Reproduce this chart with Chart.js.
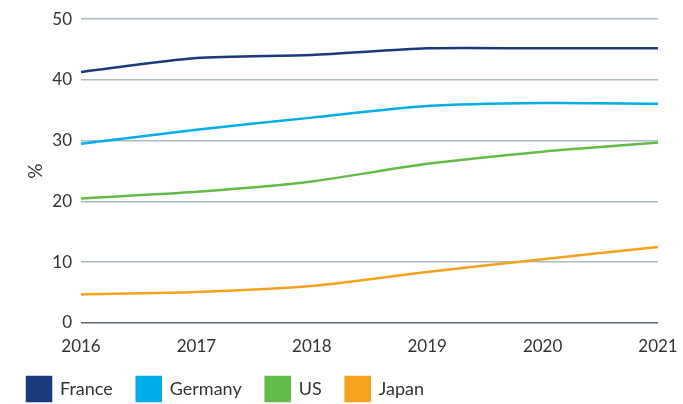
<!DOCTYPE html>
<html lang="en">
<head>
    <meta charset="UTF-8">
    <title>Share chart</title>
    <style>
        html, body { margin: 0; padding: 0; background: #fff; }
        #wrap { position: relative; width: 683px; height: 404px; }
    </style>
</head>
<body>
    <div id="wrap"><canvas id="myChart"></canvas></div>

    <script src="https://cdn.jsdelivr.net/npm/chart.js"></script>

    <script>
        // values
        const years = ['2016', '2017', '2018', '2019', '2020', '2021']
        const france  = [41.3, 43.6, 44.1, 45.2, 45.2, 45.2]
        const germany = [29.5, 31.8, 33.8, 35.7, 36.2, 36.1]
        const us      = [20.5, 21.6, 23.3, 26.2, 28.2, 29.7]
        const japan   = [4.7, 5.1, 6.1, 8.4, 10.5, 12.5]
        const yTicks  = [0, 10, 20, 30, 40, 50]

        const txt = '#333'
        const fontName = 'Lato'

        const line = (label, data, color) => ({
            label: label,
            data: data,
            borderColor: color,
            backgroundColor: color,
            borderWidth: 2.5,
            pointRadius: 0,
            tension: 0.25,
            fill: false
        })

        var ctx = document.getElementById('myChart')
        var myChart = new Chart(ctx, {
            type: 'line',
            data: {
                labels: years,
                datasets: [
                    line('France', france, '#193a7c'),
                    line('Germany', germany, '#00ade6'),
                    line('US', us, '#63bb47'),
                    line('Japan', japan, '#f6a21d')
                ]
            },
            options: {
                responsive: true,
                maintainAspectRatio: false,
                animation: false,
                layout: { padding: { top: 16, right: 25, bottom: -7, left: 3 } },
                plugins: {
                    tooltip: { enabled: false },
                    legend: {
                        position: 'bottom',
                        align: 'start',
                        labels: {
                            boxWidth: 24,
                            boxHeight: 24,
                            padding: 24,
                            color: txt,
                            font: { family: fontName, size: 18 }
                        }
                    }
                },
                scales: {
                    x: {
                        afterFit: s => { s.paddingRight = 0; s.paddingLeft = 0; s.height = 30 },
                        grid: { display: false, drawTicks: false },
                        border: { display: false },
                        offset: false,
                        ticks: {
                            color: txt,
                            padding: 13,
                            maxRotation: 0,
                            autoSkip: false,
                            font: { family: fontName, size: 17 }
                        }
                    },
                    y: {
                        min: 0,
                        max: 50,
                        afterFit: s => { s.width = 78 },
                        afterBuildTicks: s => { s.ticks = yTicks.map(v => ({ value: v })) },
                        border: { display: false },
                        grid: {
                            drawTicks: false,
                            lineWidth: 1.5,
                            color: c => c.tick && c.tick.value === 0 ? '#5b6670' : '#aebac2'
                        },
                        ticks: {
                            color: txt,
                            padding: 9,
                            font: { family: fontName, size: 17 }
                        },
                        title: {
                            display: true,
                            text: '%',
                            color: txt,
                            padding: { top: 21, bottom: 0 },
                            font: { family: fontName, size: 19 }
                        }
                    }
                }
            }
        })
    </script>
</body>
</html>
